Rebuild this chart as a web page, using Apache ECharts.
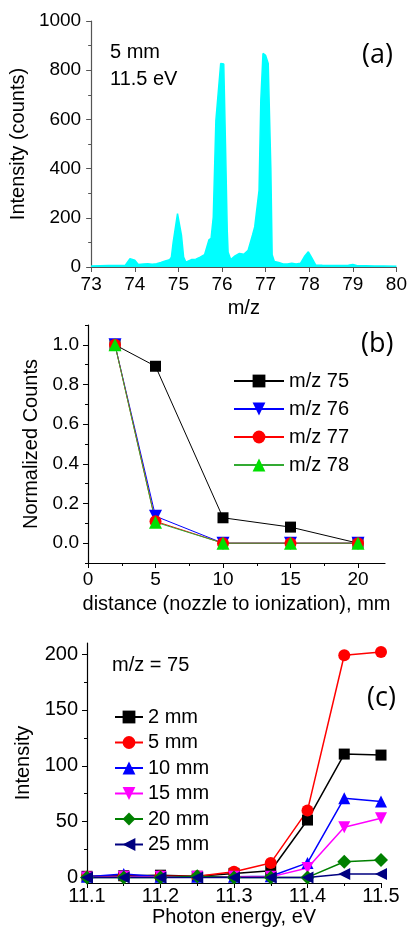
<!DOCTYPE html>
<html>
<head>
<meta charset="utf-8">
<script src="https://cdn.jsdelivr.net/npm/echarts@6/dist/echarts.min.js"></script>
<style>html,body{margin:0;padding:0;background:#fff}#c{width:410px;height:930px}</style>
</head>
<body>
<div id="c"></div>
<script>
// Panel (a): mass spectrum, 5 mm, 11.5 eV
const mzValues = [73.0,73.2,73.4,73.6,73.78,73.89,74.0,74.08,74.2,74.3,74.4,74.5,74.6,74.7,74.8,74.84,74.88,74.98,75.07,75.12,75.17,75.3,75.4,75.5,75.6,75.7,75.75,75.8,75.86,75.97,76.04,76.08,76.12,76.14,76.2,76.3,76.4,76.5,76.6,76.7,76.75,76.85,76.89,76.94,77.0,77.06,77.12,77.15,77.2,77.3,77.4,77.5,77.6,77.7,77.8,77.9,77.98,78.05,78.15,78.3,78.5,78.7,78.9,79.0,79.1,79.3,79.5,79.7,80.0];
const counts   = [4,5,6,6,6,34,28,10,12,13,11,13,18,25,30,40,100,217,130,40,20,30,32,40,50,110,117,203,596,827,825,500,150,60,30,45,55,52,68,130,163,312,677,868,860,827,400,50,22,18,12,12,15,12,15,45,62,40,8,7,6,6,7,10,5,5,4,4,3];

// Panel (b): normalized counts vs distance
const distances = [2,5,10,15,20];
const norm75 = [1.0,0.892,0.128,0.081,0.0];
const norm76 = [1.0,0.136,0.0,0.0,0.0];
const norm77 = [1.0,0.110,0.0,0.0,0.0];
const norm78 = [1.0,0.106,0.0,0.0,0.0];

// Panel (c): m/z = 75 intensity vs photon energy
const energies = [11.1,11.15,11.2,11.25,11.3,11.35,11.4,11.45,11.5];
const int2mm  = [1,1.5,2,1,3.6,6,51.4,110.5,109.6];
const int5mm  = [0.5,1,1,1,5,13,60,199,202];
const int10mm = [0.5,3,0.5,0.5,0.5,1,13,71,68];
const int15mm = [0,0.5,0.5,0.5,0.5,0.5,8.4,45,53];
const int20mm = [0,0,0,1,0,0,0,14,15.5];
const int25mm = [0,0,0,0,0,0,0,3,3];

const bTicks = [0,0.2,0.4,0.6,0.8,1.0];
const bMinor = [-0.1,0.1,0.3,0.5,0.7,0.9,1.1];
const bxTicks = [0,5,10,15,20];
const bxMinor = [2.5,7.5,12.5,17.5];
const cTicks = [0,50,100,150,200];
const cMinor = [25,75,125,175];

const FF = 'Liberation Sans, Arial, sans-serif';
const pair = (xs, ys) => xs.map((x, i) => [x, ys[i]]);

const chart = echarts.init(document.getElementById('c'), null, {renderer: 'canvas'});

function axisBase(color) {
  return {
    axisLine: {show: true, onZero: false, lineStyle: {color: color, width: 1.2}},
    axisTick: {show: true, inside: false, length: 5, lineStyle: {color: color}},
    splitLine: {show: false},
    axisLabel: {color: '#000', fontFamily: FF, fontSize: 19},
    nameTextStyle: {color: '#000', fontFamily: FF, fontSize: 20}
  };
}
function minorAxis(grid, min, max, vals, pos) {
  return {
    gridIndex: grid, type: 'value', min: min, max: max, position: pos,
    axisLine: {show: false, onZero: false}, axisLabel: {show: false}, splitLine: {show: false},
    axisTick: {show: true, inside: false, length: 3, customValues: vals, lineStyle: {color: '#000'}}
  };
}

const option = {
  animation: false,
  backgroundColor: '#fff',
  grid: [
    {left: 91, top: 21, width: 306, height: 246},
    {left: 88, top: 325, width: 297, height: 238},
    {left: 87, top: 643, width: 294, height: 240}
  ],
  xAxis: [
    Object.assign(axisBase('#555'), {
      gridIndex: 0, type: 'value', min: 73, max: 80, interval: 1, position: 'bottom',
      name: 'm/z', nameLocation: 'middle', nameGap: 31,
      axisLabel: {color: '#000', fontFamily: FF, fontSize: 19, margin: 8}
    }),
    Object.assign(axisBase('#000'), {
      gridIndex: 1, type: 'value', min: 0, max: 22, position: 'bottom',
      name: 'distance (nozzle to ionization), mm', nameLocation: 'middle', nameGap: 31,
      axisTick: {show: true, length: 5, customValues: bxTicks, lineStyle: {color: '#000'}},
      axisLabel: {color: '#000', fontFamily: FF, fontSize: 19, margin: 7, customValues: bxTicks}
    }),
    minorAxis(1, 0, 22, bxMinor, 'bottom'),
    Object.assign(axisBase('#000'), {
      gridIndex: 2, type: 'value', min: 11.1, max: 11.5, interval: 0.1, position: 'bottom',
      name: 'Photon energy, eV', nameLocation: 'middle', nameGap: 24,
      minorTick: {show: true, splitNumber: 2, length: 3, lineStyle: {color: '#000'}},
      axisLabel: {color: '#000', fontFamily: FF, fontSize: 20, margin: 3, formatter: v => v.toFixed(1)}
    })
  ],
  yAxis: [
    Object.assign(axisBase('#555'), {
      gridIndex: 0, type: 'value', min: 0, max: 1000, interval: 200, position: 'left',
      name: 'Intensity (counts)', nameLocation: 'middle', nameGap: 58,
      minorTick: {show: true, splitNumber: 2, length: 3, lineStyle: {color: '#555'}},
      axisLabel: {color: '#000', fontFamily: FF, fontSize: 19, margin: 10, formatter: v => String(v)}
    }),
    Object.assign(axisBase('#000'), {
      gridIndex: 1, type: 'value', min: -0.1, max: 1.1, position: 'left',
      name: 'Normalized Counts', nameLocation: 'middle', nameGap: 47,
      axisTick: {show: true, length: 5, customValues: bTicks, lineStyle: {color: '#000'}},
      axisLabel: {color: '#000', fontFamily: FF, fontSize: 19, margin: 9, customValues: bTicks, formatter: v => v.toFixed(1)}
    }),
    minorAxis(1, -0.1, 1.1, bMinor, 'left'),
    Object.assign(axisBase('#000'), {
      gridIndex: 2, type: 'value', min: -5, max: 210, position: 'left',
      name: 'Intensity', nameLocation: 'middle', nameGap: 52,
      axisTick: {show: true, length: 5, customValues: cTicks, lineStyle: {color: '#000'}},
      axisLabel: {color: '#000', fontFamily: FF, fontSize: 20, margin: 9, customValues: cTicks}
    }),
    minorAxis(2, -5, 210, cMinor, 'left')
  ],
  legend: [
    {
      data: ['m/z 75','m/z 76','m/z 77','m/z 78'],
      left: 228, top: 366, orient: 'vertical',
      itemWidth: 50, itemHeight: 16, itemGap: 8,
      textStyle: {fontFamily: FF, fontSize: 20, color: '#000', lineHeight: 20}
    },
    {
      data: ['2 mm','5 mm','10 mm','15 mm','20 mm','25 mm'],
      left: 109, top: 702, orient: 'vertical',
      itemWidth: 28, itemHeight: 16, itemGap: 5.5, itemTextGap: 4,
      textStyle: {fontFamily: FF, fontSize: 20, color: '#000', lineHeight: 20}
    }
  ],
  series: [
    {
      type: 'line', xAxisIndex: 0, yAxisIndex: 0, data: pair(mzValues, counts),
      symbol: 'none', lineStyle: {color: '#00FFFF', width: 1.5},
      areaStyle: {color: '#00FFFF', opacity: 1}, silent: true
    },
    {name: 'm/z 75', type: 'line', xAxisIndex: 1, yAxisIndex: 1, data: pair(distances, norm75),
      symbol: 'rect', symbolSize: 11, itemStyle: {color: '#000'}, lineStyle: {color: '#000', width: 1}},
    {name: 'm/z 76', type: 'line', xAxisIndex: 1, yAxisIndex: 1, data: pair(distances, norm76),
      symbol: 'triangle', symbolRotate: 180, symbolSize: 13, itemStyle: {color: '#0000FF'}, lineStyle: {color: '#0000FF', width: 1}},
    {name: 'm/z 77', type: 'line', xAxisIndex: 1, yAxisIndex: 1, data: pair(distances, norm77),
      symbol: 'circle', symbolSize: 12, itemStyle: {color: '#FF0000'}, lineStyle: {color: '#FF0000', width: 1}},
    {name: 'm/z 78', type: 'line', xAxisIndex: 1, yAxisIndex: 1, data: pair(distances, norm78),
      symbol: 'triangle', symbolSize: 13, itemStyle: {color: '#00E000'}, lineStyle: {color: '#33AA33', width: 1}},
    {name: '2 mm', type: 'line', xAxisIndex: 3, yAxisIndex: 3, data: pair(energies, int2mm), clip: false,
      symbol: 'rect', symbolSize: 11, itemStyle: {color: '#000'}, lineStyle: {color: '#000', width: 1.5}},
    {name: '5 mm', type: 'line', xAxisIndex: 3, yAxisIndex: 3, data: pair(energies, int5mm), clip: false,
      symbol: 'circle', symbolSize: 12, itemStyle: {color: '#FF0000'}, lineStyle: {color: '#FF0000', width: 1.5}},
    {name: '10 mm', type: 'line', xAxisIndex: 3, yAxisIndex: 3, data: pair(energies, int10mm), clip: false,
      symbol: 'triangle', symbolSize: 12, itemStyle: {color: '#0000FF'}, lineStyle: {color: '#0000FF', width: 1.5}},
    {name: '15 mm', type: 'line', xAxisIndex: 3, yAxisIndex: 3, data: pair(energies, int15mm), clip: false,
      symbol: 'triangle', symbolRotate: 180, symbolSize: 12, itemStyle: {color: '#FF00FF'}, lineStyle: {color: '#FF00FF', width: 1.5}},
    {name: '20 mm', type: 'line', xAxisIndex: 3, yAxisIndex: 3, data: pair(energies, int20mm), clip: false,
      symbol: 'diamond', symbolSize: 14, itemStyle: {color: '#008000'}, lineStyle: {color: '#008000', width: 1.5}},
    {name: '25 mm', type: 'line', xAxisIndex: 3, yAxisIndex: 3, data: pair(energies, int25mm), clip: false,
      symbol: 'triangle', symbolRotate: 90, symbolSize: 12, itemStyle: {color: '#000080'}, lineStyle: {color: '#000080', width: 1.5}}
  ],
  graphic: [
    {type: 'text', left: 110, top: 42, style: {text: '5 mm', font: '20px ' + FF, fill: '#000'}},
    {type: 'text', left: 110, top: 69, style: {text: '11.5 eV', font: '20px ' + FF, fill: '#000'}},
    {type: 'text', left: 362, top: 42, style: {text: '(a)', font: '27px "Open Sans", sans-serif', fill: '#000'}},
    {type: 'text', left: 361, top: 331, style: {text: '(b)', font: '27px "Open Sans", sans-serif', fill: '#000'}},
    {type: 'text', left: 367, top: 685, style: {text: '(c)', font: '27px "Open Sans", sans-serif', fill: '#000'}},
    {type: 'text', left: 112, top: 655, style: {text: 'm/z = 75', font: '20px ' + FF, fill: '#000'}}
  ]
};
chart.setOption(option);
</script>
</body>
</html>
